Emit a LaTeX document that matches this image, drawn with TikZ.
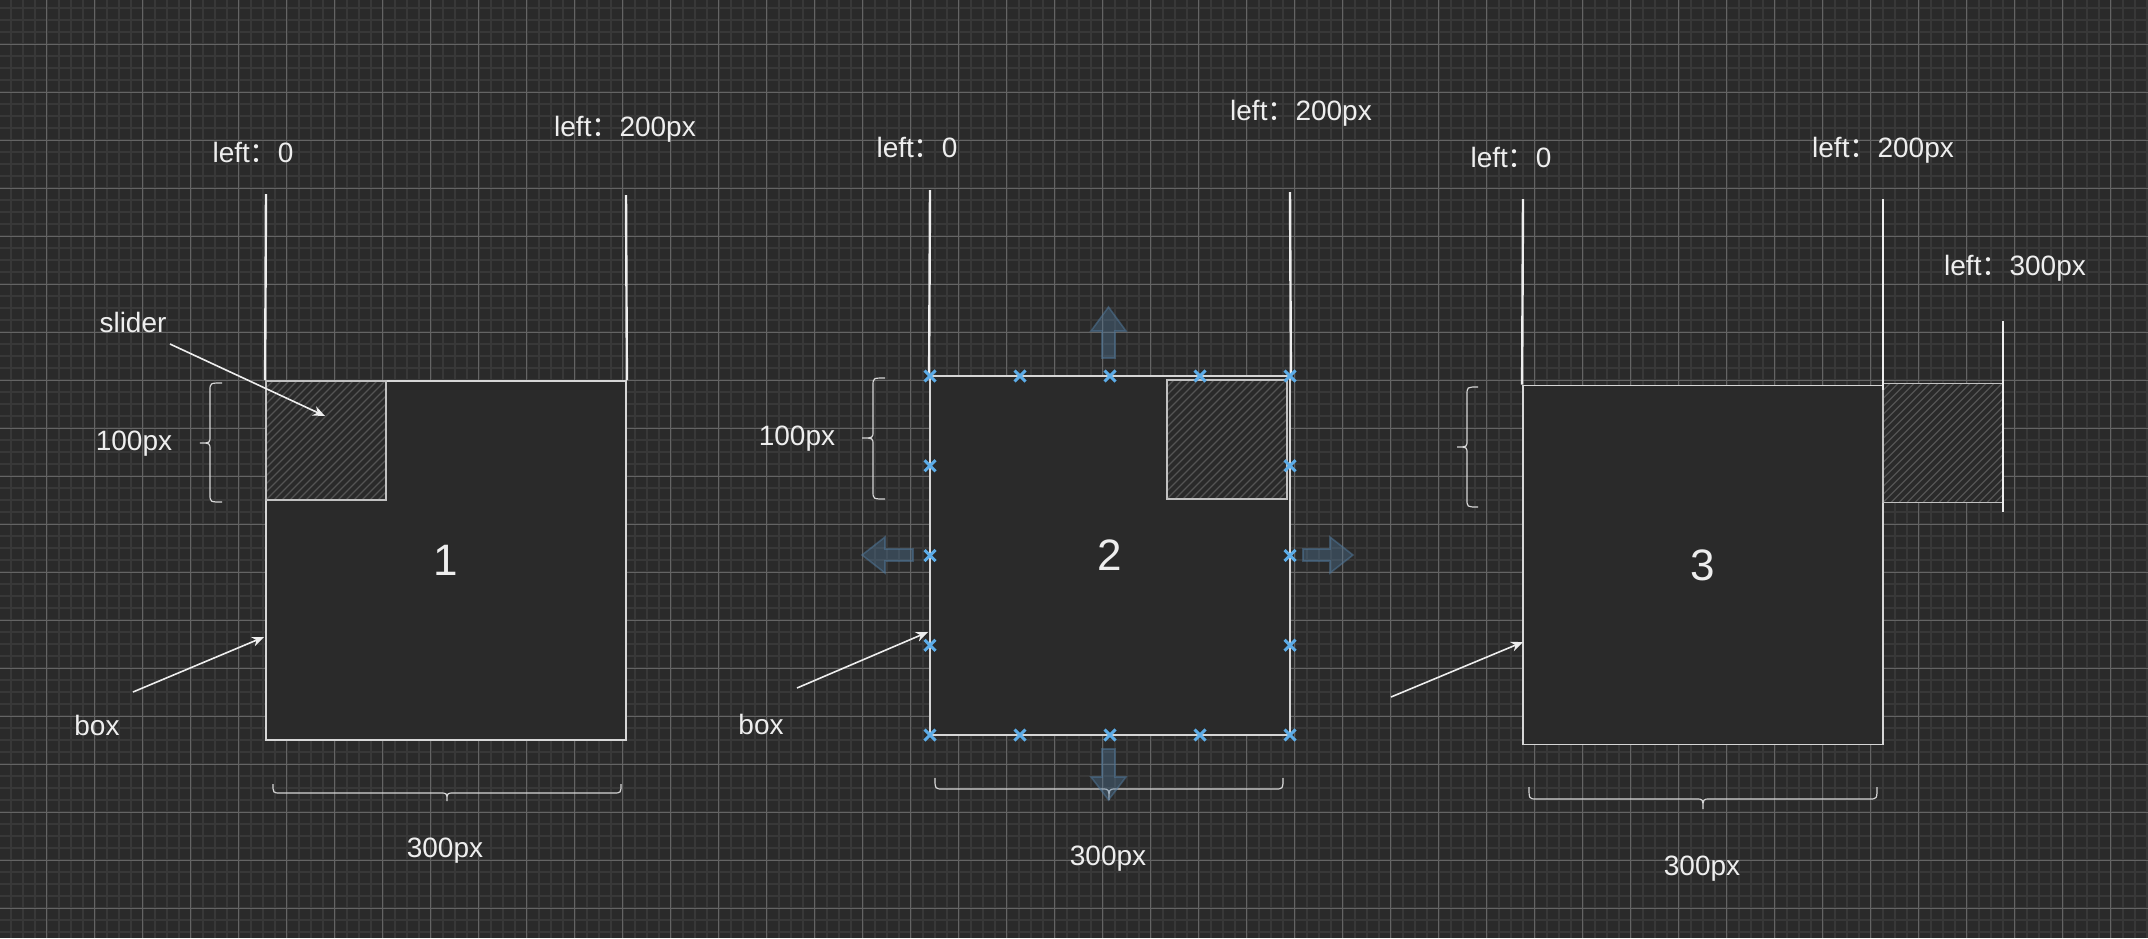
\documentclass[tikz,border=0pt]{standalone}
\usepackage{fontspec}
\setmainfont{Liberation Sans}
\newfontfamily\cjk{Noto Sans CJK SC}
\usetikzlibrary{arrows.meta}
\definecolor{bg}{RGB}{42,42,42}
\definecolor{minorc}{RGB}{56,56,56}
\definecolor{majorc}{RGB}{100,100,100}
\definecolor{fg}{RGB}{238,238,238}
\definecolor{edgec}{RGB}{214,214,214}
\definecolor{hatchc}{RGB}{84,84,84}
\definecolor{markc}{RGB}{92,172,232}
\definecolor{bigc}{RGB}{80,120,155}
\newcommand\mybracev[6]{% xe xb xt y1 ym y2
  \draw[bracest] (#1,#4) .. controls (#2,#4) .. (#2,#4+8) -- (#2,#5-7) .. controls (#2,#5) .. (#3,#5) .. controls (#2,#5) .. (#2,#5+7) -- (#2,#6-8) .. controls (#2,#6) .. (#1,#6);}
\newcommand\mybraceh[6]{% x1 xm x2 ye yb yt
  \draw[bracest] (#1,#4) .. controls (#1,#5) .. (#1+8,#5) -- (#2-7,#5) .. controls (#2,#5) .. (#2,#6) .. controls (#2,#5) .. (#2+7,#5) -- (#3-8,#5) .. controls (#3,#5) .. (#3,#4);}
\begin{document}
\begin{tikzpicture}[x=0.5pt,y=-0.5pt,
  lbl/.style={text=fg, font=\fontsize{14pt}{16pt}\selectfont, inner sep=0pt, anchor=base},
  boxst/.style={draw=edgec, fill=bg, line width=0.9pt, minimum width=180pt, minimum height=179.5pt, inner sep=0pt, text=fg, font=\fontsize{22pt}{24pt}\selectfont},
  slider/.style={draw=edgec!90!black, fill=bg, line width=0.8pt, minimum width=60pt, minimum height=59.5pt, inner sep=0pt,
    path picture={\foreach \k in {-16,...,16} \draw[hatchc, line width=0.6pt] ([xshift=\k*4pt]path picture bounding box.south west) -- ++(80pt,80pt);}},
  guide/.style={draw=fg, line width=1.2pt},
  conn/.style={draw=fg, line width=0.8pt, -{Stealth[length=6pt,width=5pt]}},
  bracest/.style={draw=edgec, line width=0.6pt},
  mk/.style={draw=markc, line width=1.5pt},
  bigarr/.style={fill=bigc, fill opacity=0.38, draw=bigc, draw opacity=0.5, line width=0.8pt}
]
\fill[bg] (0,0) rectangle (2148,938);
\useasboundingbox (0,0) rectangle (2148,938);
% grid
\foreach \i in {0,...,179} \draw[minorc, line width=1pt] ({10.7+12*\i},0) -- ({10.7+12*\i},938);
\foreach \i in {0,...,78} \draw[minorc, line width=1pt] (0,{8+12*\i}) -- (2148,{8+12*\i});
\foreach \i in {0,...,44} \draw[majorc, line width=0.5pt] ({46.7+48*\i},0) -- ({46.7+48*\i},938);
\foreach \i in {0,...,19} \draw[majorc, line width=0.5pt] (0,{44+48*\i}) -- (2148,{44+48*\i});

% ---------- panel 1 ----------
\node[boxst] (box1) at (446,560.5) {1};
\coordinate (g1a) at (266,194);
\coordinate (g1b) at (626,195);
\draw[guide] (g1a) -- (box1.north west);
\draw[guide] (g1b) -- (box1.north east);
\node[slider] (sl1) at (326,440.5) {};
\node[lbl] (t1a) at (253,162) {left{\cjk：}0};
\node[lbl] (t1b) at (625,136) {left{\cjk：}200px};
\node[lbl] (t1s) at (133,332) {slider};
\node[lbl] (t1h) at (134,450) {100px};
\node[lbl] (t1x) at (97,735) {box};
\node[lbl] (t1w) at (445,857) {300px};
\coordinate (a1s) at (170,344); \coordinate (a1e) at (325,416);
\draw[conn] (a1s) -- (a1e);
\coordinate (b1s) at (133,692); \coordinate (b1e) at (264,637);
\draw[conn] (b1s) -- (b1e);
\mybracev{222}{210}{200}{383}{443}{502}
\mybraceh{273}{447}{621}{784}{793}{801}

% ---------- panel 2 ----------
\node[boxst] (box2) at (1110,555.5) {2};
\coordinate (g2a) at (930,190);
\coordinate (g2b) at (1290,192);
\draw[guide] (g2a) -- (box2.north west);
\draw[guide] (g2b) -- (box2.north east);
\node[slider] (sl2) at (1227,439.5) {};
\node[lbl] (t2a) at (917,157) {left{\cjk：}0};
\node[lbl] (t2b) at (1301,120) {left{\cjk：}200px};
\node[lbl] (t2h) at (797,445) {100px};
\node[lbl] (t2x) at (761,734) {box};
\node[lbl] (t2w) at (1108,865) {300px};
\coordinate (b2s) at (797,688); \coordinate (b2e) at (928,632);
\draw[conn] (b2s) -- (b2e);
\mybracev{885}{873}{862}{378}{438}{499}
\mybraceh{935}{1109}{1283}{778}{789}{800}
% move arrows
\filldraw[bigarr] (1102,358) -- (1102,331) -- (1091,331) -- (1108.5,307) -- (1126,331) -- (1115,331) -- (1115,358) -- cycle;
\filldraw[bigarr] (1102,749) -- (1102,777) -- (1091,777) -- (1108.5,800) -- (1126,777) -- (1115,777) -- (1115,749) -- cycle;
\filldraw[bigarr] (913,549) -- (885,549) -- (885,537) -- (862,555) -- (885,573) -- (885,561) -- (913,561) -- cycle;
\filldraw[bigarr] (1303,549) -- (1330,549) -- (1330,537) -- (1353,555) -- (1330,573) -- (1330,561) -- (1303,561) -- cycle;
% selection markers
\foreach \mx/\my in {930/376,1020/376,1110/376,1200/376,1290/376,
                     930/735,1020/735,1110/735,1200/735,1290/735,
                     930/465.75,930/555.5,930/645.25,1290/465.75,1290/555.5,1290/645.25}
  \draw[mk] ({\mx-5.5},{\my-5.5}) -- ({\mx+5.5},{\my+5.5}) ({\mx-5.5},{\my+5.5}) -- ({\mx+5.5},{\my-5.5});

% ---------- panel 3 ----------
\node[boxst] (box3) at (1703,565) {3};
\node[slider] (sl3) at (1943,443) {};
\coordinate (g3a) at (1523,199);
\coordinate (g3b) at (1883,199);
\coordinate (g3c) at (1883,390);
\coordinate (g3d) at (2003,321);
\coordinate (g3e) at (2003,512);
\draw[guide] (g3a) -- (box3.north west);
\draw[guide] (g3b) -- (g3c);
\draw[guide] (g3d) -- (g3e);
\node[lbl] (t3a) at (1511,167) {left{\cjk：}0};
\node[lbl] (t3b) at (1883,157) {left{\cjk：}200px};
\node[lbl] (t3c) at (2015,275) {left{\cjk：}300px};
\node[lbl] (t3w) at (1702,875) {300px};
\coordinate (b3s) at (1391,697); \coordinate (b3e) at (1523,642);
\draw[conn] (b3s) -- (b3e);
\mybracev{1478}{1467}{1457}{387}{447}{507}
\mybraceh{1529}{1703}{1877}{787}{799}{809}
\end{tikzpicture}
\end{document}
